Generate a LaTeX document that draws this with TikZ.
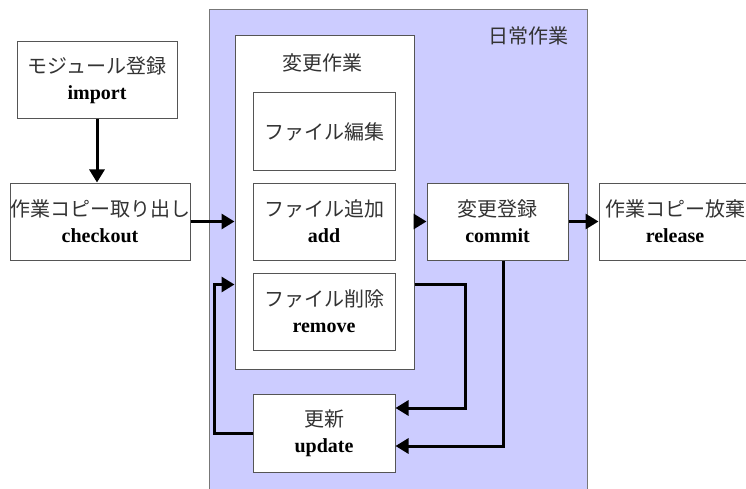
\documentclass[tikz,border=0pt]{standalone}
\usepackage{fontspec}
\setmainfont{Liberation Serif}
\newfontfamily\jp{Noto Sans CJK JP}[Color=333333]
\usetikzlibrary{arrows.meta,calc}
\definecolor{lav}{HTML}{CCCCFF}
\definecolor{edge}{HTML}{555555}
\tikzset{
  box/.style={draw=edge, line width=1pt, fill=white, inner sep=0pt,
    align=center, font=\fontsize{20pt}{25pt}\selectfont},
  flow/.style={line width=3pt, -{Triangle[length=13pt,width=15pt]}},
}
\newcommand{\two}[2]{{\jp #1}\\[1pt]{\bfseries #2}}
\begin{document}
\begin{tikzpicture}[x=1pt,y=-1pt]
\useasboundingbox (0,0) rectangle (746,489);
\fill[white] (0,0) rectangle (746,489);

% daily-work area
\node[box, draw=edge!80, fill=lav, minimum width=378pt, minimum height=490pt]
  (daily) at (398,255) {};
\node[font=\jp\fontsize{20pt}{25pt}\selectfont] (dailylbl) at (528,36) {日常作業};

% change-work container
\node[box, minimum width=179pt, minimum height=333pt] (work) at (324.5,202.5) {};
\node[font=\jp\fontsize{20pt}{25pt}\selectfont] (worklbl) at (322,63) {変更作業};

% steps inside the container
\node[box, minimum width=142pt, minimum height=78pt] (edit) at (324,132) {\jp ファイル編集};
\node[box, minimum width=142pt, minimum height=77pt] (add) at (324,221.5) {\two{ファイル追加}{add}};
\node[box, minimum width=142pt, minimum height=77pt] (remove) at (324,311.5) {\two{ファイル削除}{remove}};
\node[box, minimum width=142pt, minimum height=78pt] (update) at (324,433) {\two{更新}{update}};

% commit and release
\node[box, minimum width=141pt, minimum height=77pt] (commit) at (497.5,221.5) {\two{変更登録}{commit}};
\node[box, minimum width=152pt, minimum height=77pt] (release) at (675,221.5) {\two{作業コピー放棄}{release}};

% import and checkout
\node[box, minimum width=160pt, minimum height=77pt] (import) at (97,80.5) {\two{モジュール登録}{import}};
\node[box, minimum width=180pt, minimum height=77pt] (checkout) at (100,221.5) {\two{作業コピー取り出し}{checkout}};

% connectors
\draw[flow] (import.south -| 97,0) -- (checkout.north -| 97,0);
\draw[flow] (checkout.east) -- (work.west |- checkout.east);
\draw[flow] (work.east |- commit.west) -- (commit.west);
\draw[flow] (commit.east) -- (release.west);
\draw[flow] ($(work.east |- remove.north)+(0,12)$) -- ++(51,0)
  |- ($(update.east)+(0,-25)$);
\draw[flow] ($(commit.south)+(5.5,0)$) |- ($(update.east)+(0,13)$);
\draw[flow] (update.west) -- ++(-38,0) |- ($(work.west |- remove.north)+(0,12)$);
\end{tikzpicture}
\end{document}
